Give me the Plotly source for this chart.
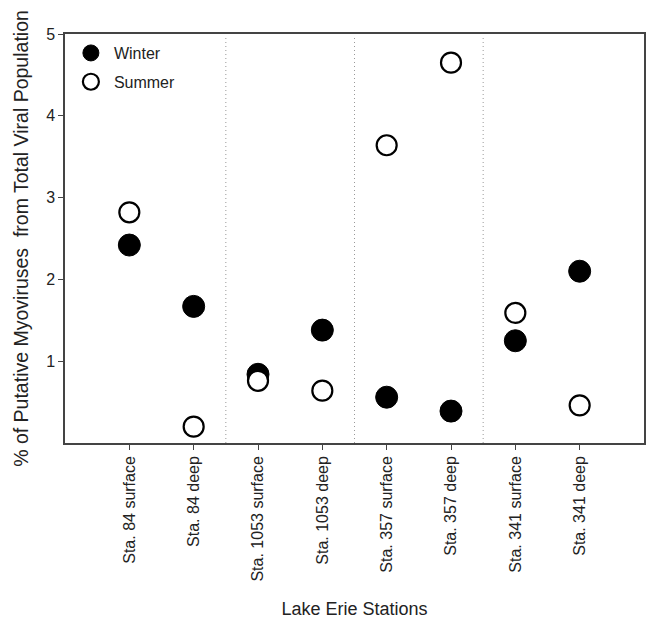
import plotly.graph_objects as go

stations = ["Sta. 84 surface", "Sta. 84 deep", "Sta. 1053 surface", "Sta. 1053 deep",
            "Sta. 357 surface", "Sta. 357 deep", "Sta. 341 surface", "Sta. 341 deep"]
winter = [2.42, 1.67, 0.84, 1.38, 0.56, 0.39, 1.25, 2.10]
summer = [2.82, 0.20, 0.76, 0.64, 3.64, 4.65, 1.59, 0.46]
y_ticks = [1, 2, 3, 4, 5]
group_bounds = [2.5, 4.5, 6.5]

xpos = list(range(1, len(stations) + 1))
font = "Liberation Sans, Arial, sans-serif"

fig = go.Figure()
fig.add_trace(go.Scatter(x=xpos, y=winter, mode="markers", name="Winter", legendgroup="w",
                         marker=dict(size=22, color="black", line=dict(color="black", width=1))))
fig.add_trace(go.Scatter(x=xpos, y=summer, mode="markers", name="Summer", legendgroup="s",
                         marker=dict(size=20, color="white", line=dict(color="black", width=2.2))))

for b in group_bounds:
    fig.add_shape(type="line", xref="x", yref="y", x0=b, x1=b, y0=0, y1=4.97,
                  line=dict(color="#999", width=1, dash="1px,3px"))

fig.update_layout(
    width=650, height=620,
    margin=dict(l=65, r=4, t=34, b=177),
    plot_bgcolor="white", paper_bgcolor="white",
    font=dict(family=font, size=16, color="#222"),
    showlegend=True,
    legend=dict(x=0.005, y=0.995, xanchor="left", yanchor="top", bgcolor="rgba(0,0,0,0)",
                font=dict(size=16, color="#222"), itemsizing="trace", tracegroupgap=5,
                traceorder="grouped", itemwidth=36),
    xaxis=dict(range=[0, 9], tickvals=xpos, ticktext=stations, tickangle=-90,
               ticks="outside", ticklen=5, tickcolor="#444", showgrid=False, zeroline=False,
               showline=True, linecolor="#444", linewidth=1.5, mirror=True,
               tickfont=dict(size=16),
               title=dict(text="Lake Erie Stations", font=dict(size=18), standoff=22)),
    yaxis=dict(range=[0, 5], tickvals=y_ticks, ticks="outside", ticklen=5, tickcolor="#444",
               showgrid=False, zeroline=False, showline=True, linecolor="#444", linewidth=1.5,
               mirror=True, tickfont=dict(size=16),
               title=dict(text="% of Putative Myoviruses  from Total Viral Population",
                          font=dict(size=19.5), standoff=12)),
)

fig.write_html("out.html")
